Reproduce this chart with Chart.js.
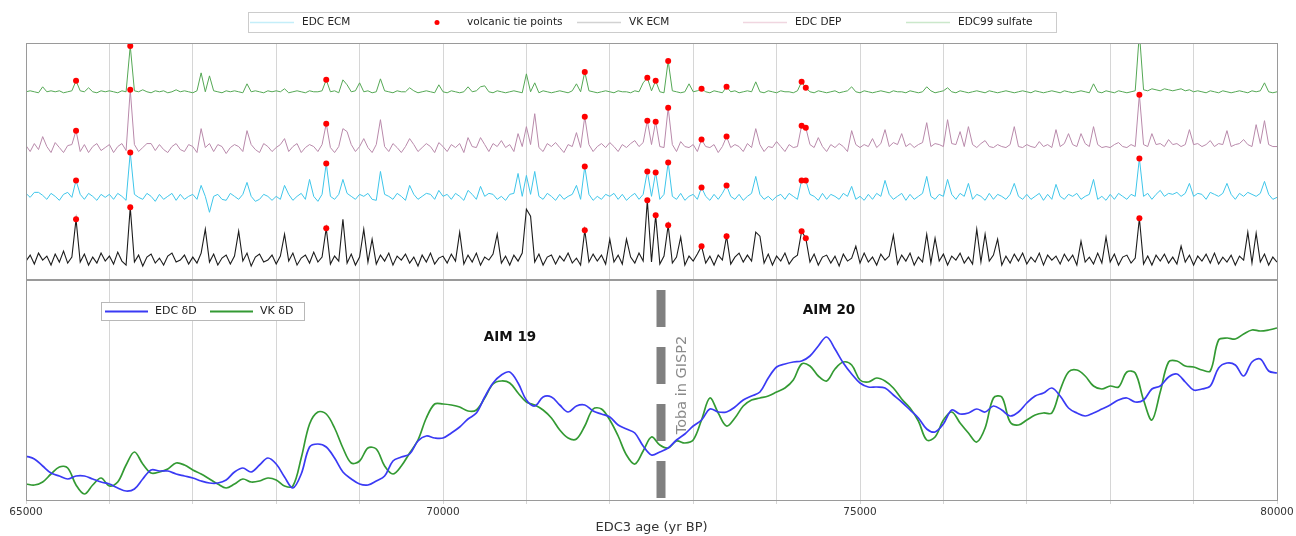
<!DOCTYPE html>
<html><head><meta charset="utf-8">
<script src="https://cdn.jsdelivr.net/npm/chart.js@4.4.1/dist/chart.umd.min.js"></script>
<style>
html,body{margin:0;padding:0;background:#fff;}
#wrap{position:relative;width:1296px;height:536px;overflow:hidden;}
canvas{position:absolute;left:0;}
#topChart{top:0;}
#botChart{top:280px;}
</style></head><body>
<div id="wrap">
<canvas id="topChart" width="1296" height="282"></canvas>
<canvas id="botChart" width="1296" height="256"></canvas>
</div>
<script>
// ---------- DATA ----------
const AGE_START = 65000;
const AGE_END = 80000;
const TRACE_STEP = 50;      // yr, volcanic traces
const ISO_STEP = 100;       // yr, isotope records
const majorTickAges = [65000, 70000, 75000, 80000];

// volcanic traces (amplitude above each trace's own baseline, arbitrary units)
const edc99Sulfate = [
 1,2,1,0,6,1,2,1,2,0,1,2,12,2,1,5,1,0,2,1,
 2,1,0,2,1,47,2,1,3,1,0,2,1,2,0,1,3,1,2,1,
 0,2,20,1,17,2,1,0,2,1,2,1,0,9,1,2,1,0,2,1,
 2,1,4,0,1,2,1,0,2,1,1,2,13,1,2,0,13,8,1,2,
 10,1,2,0,1,14,2,1,0,2,1,1,5,2,0,1,2,1,0,8,
 1,0,2,1,0,1,6,1,2,6,7,1,0,2,1,0,1,2,1,0,
 19,1,10,0,2,1,0,1,2,1,0,2,9,1,21,2,1,0,1,2,
 1,0,2,1,1,0,2,1,10,15,2,12,1,0,32,2,1,0,1,9,
 1,2,4,1,0,2,1,0,6,1,2,0,1,2,1,11,1,0,2,1,
 0,2,1,1,0,2,11,5,1,0,2,1,0,1,2,0,1,2,6,1,
 0,2,1,0,1,2,1,0,2,1,1,0,2,1,0,1,6,2,0,1,
 2,5,1,0,2,1,0,1,2,1,0,2,1,0,1,2,1,0,1,2,
 1,0,2,1,0,1,2,1,0,2,1,0,1,2,1,0,9,1,0,2,
 1,0,2,1,0,1,2,60,3,2,4,3,2,4,3,2,3,4,2,3,
 1,2,1,0,2,1,0,2,1,0,1,2,1,0,2,1,2,10,1,0,
 1];
const edcDep = [
 3,-3,5,-1,12,2,-4,6,1,-4,3,4,18,-3,4,-4,2,5,-2,1,
 4,-4,2,5,-2,59,4,-3,1,5,5,-2,4,-1,-4,2,5,-1,-3,4,
 2,-4,20,1,5,-3,4,2,-5,1,4,2,-3,18,4,-1,-4,5,2,-3,
 1,4,10,-3,2,5,-4,1,4,2,-3,4,25,1,-4,2,20,17,4,-3,
 2,10,1,-4,4,29,2,-3,5,1,-4,2,10,4,-3,1,5,2,-4,6,
 2,-3,4,1,5,-4,11,2,1,11,4,-3,5,2,8,1,4,-3,15,2,
 22,4,35,1,-3,5,2,6,1,-4,4,2,16,1,32,4,-3,2,5,1,
 6,2,-3,4,1,5,8,2,6,28,4,27,2,1,41,4,-3,7,2,1,
 4,-3,9,2,1,4,-4,2,12,1,4,2,-3,5,1,20,4,-3,2,1,
 7,2,-3,4,1,2,23,21,4,1,11,2,-3,4,1,5,2,-3,18,4,
 1,4,2,10,1,5,19,2,6,4,15,2,5,1,4,6,26,2,5,4,
 2,29,5,4,17,2,22,4,1,5,8,2,1,4,2,1,4,22,2,1,
 4,2,1,7,2,4,1,19,2,5,15,4,2,15,5,2,22,4,1,2,
 1,4,6,2,1,4,2,54,4,2,15,4,5,2,9,4,5,2,4,19,
 4,5,2,4,8,2,5,4,18,2,4,5,9,4,2,24,5,28,4,2,
 2];
const edcEcm = [
 5,1,6,6,3,-1,5,2,-2,4,6,1,18,4,-1,5,2,-2,4,1,
 4,-1,5,2,-2,46,4,1,-1,5,2,-3,4,-1,2,5,-2,4,-1,2,
 4,-1,13,2,-14,2,4,-1,-2,5,2,-1,4,16,2,-3,-1,4,2,-2,
 2,-1,13,4,-2,2,5,-1,19,2,-3,4,35,2,-1,4,19,5,2,-1,
 4,2,5,-1,-2,27,4,2,-1,5,2,-2,13,4,-1,2,5,4,-1,8,
 2,4,-1,5,2,-2,8,4,-1,12,2,5,4,-1,2,-2,4,5,25,2,
 23,4,27,2,-1,5,2,-2,4,-1,2,4,13,-1,32,4,-2,2,-1,4,
 2,5,-1,4,-2,2,5,-1,4,27,2,26,-1,4,36,2,-1,5,-2,2,
 4,-1,11,2,-2,4,-1,5,13,2,-1,4,-2,2,5,22,4,-1,2,-2,
 2,4,-1,5,2,-1,18,18,4,2,-2,5,-1,4,2,-1,5,2,12,-1,
 2,-2,4,-1,5,2,18,4,-1,2,5,-2,4,-1,2,5,22,2,-1,4,
 2,19,4,-1,5,2,15,-1,4,2,-2,5,-1,4,2,-1,4,15,2,-1,
 4,-1,2,5,-2,4,-1,14,2,-1,4,2,5,-1,2,4,19,-1,2,-2,
 4,-1,5,2,-1,4,2,40,2,5,-1,4,8,2,5,4,6,2,5,15,
 2,5,4,-1,6,4,2,5,15,4,-1,5,2,6,4,2,5,17,4,-1,
 1];
const vkEcm = [
 -2,4,-5,6,-1,3,-6,5,-3,8,-4,2,40,-3,5,-6,2,-4,6,-2,
 3,-5,7,-2,-6,52,-3,4,-7,2,5,-4,1,-6,3,6,-3,-1,4,-5,
 2,-4,6,30,-3,5,-6,1,4,-5,3,28,-2,6,-7,2,5,-3,-1,4,
 -5,3,25,-2,6,-6,1,4,-4,7,-3,2,31,-5,3,-2,40,-4,5,-6,
 2,30,-3,20,-5,4,-2,6,-6,3,-1,5,-4,2,-7,4,-3,6,-5,1,
 3,-4,5,-2,27,-5,4,-3,6,-6,2,-1,5,25,-4,3,-6,4,-2,6,
 50,43,-3,5,-6,2,4,-5,3,-2,6,-4,1,-6,29,-3,5,-2,4,-5,
 20,-3,4,-5,20,2,-4,6,-2,59,-3,44,-5,3,34,-4,2,22,-6,3,
 -2,5,13,-4,3,-6,4,-1,23,-5,2,6,-3,4,-2,27,23,-4,5,-6,
 3,-2,6,-5,1,4,28,21,-3,5,-6,2,4,-4,3,-7,5,-2,1,13,
 -4,6,-3,2,-6,5,-1,3,24,-5,4,-2,6,-6,2,-3,25,-4,21,-2,
 5,-6,3,-1,6,-4,2,-5,30,-3,25,-2,4,20,-6,3,-4,5,-2,6,
 -5,2,-3,6,-6,4,-1,3,-5,5,-2,4,-6,18,-3,2,-5,6,-4,22,
 -3,5,-6,2,4,-4,1,41,-5,3,-6,4,-2,5,-4,2,-5,13,-3,4,
 -6,3,-2,5,-4,6,-5,2,-3,4,-6,3,-1,27,-4,26,-3,5,-6,2,
 -3];
// vertical stacking of the traces in the upper panel
const traceOffsets = { sulfate: 187, dep: 131, edcEcm: 81, vkEcm: 20 };
const TOP_Y_MAX = 237;

const tiePointAges = [65600, 66250, 68600, 71700, 72450, 72550, 72700, 73100, 73400, 74300, 74350, 78350];

// isotope records (arbitrary units, one value per 100 yr)
const edcDeltaD = [
 44,41,34,27,24,21,24,24,21,18, 16,12,9,11,21,30,29,29,26,24,
 22,19,17,17,20,28,32,28,35,42, 36,23,12,26,53,56,53,42,28,21,
 16,15,19,24,39,43,46,59,64,62, 62,67,73,81,87,103,117,125,128,117,
 100,94,103,103,95,88,94,95,89,86, 83,75,71,67,54,45,48,52,60,66,
 74,80,91,88,88,93,100,104,108,122, 133,136,138,139,144,154,163,151,137,126,
 117,113,113,112,105,98,90,82,71,68, 76,90,86,87,91,88,94,90,84,88,
 97,104,107,112,104,92,87,84,87,91, 95,100,102,98,100,111,114,123,126,118,
 110,111,114,132,137,135,124,138,141,129, 127];
const vkDeltaD = [
 16,15,18,26,33,32,15,6,15,22, 14,18,35,48,36,27,28,31,37,35,
 30,26,21,16,12,16,21,18,19,22, 20,14,14,42,76,88,86,72,52,37,
 39,52,51,34,26,34,47,60,82,96, 96,95,93,89,90,102,116,119,117,107,
 98,95,90,82,70,62,61,74,91,91, 80,64,45,36,49,63,55,52,59,57,
 60,80,102,87,74,82,94,100,102,104, 108,112,120,136,134,124,119,131,138,135,
 120,118,122,119,112,101,92,79,60,63, 80,88,77,67,58,72,102,103,78,75,
 80,85,87,87,110,128,130,124,114,111, 114,113,128,127,100,80,108,138,139,134,
 133,130,129,160,162,161,166,170,169,170, 172];
const BOT_Y_MAX = 220;

const tobaAge = 72614;
const tobaSpan = [2, 210];

// ---------- BUILD ----------
Chart.defaults.font.family = "'DejaVu Sans', sans-serif";
Chart.defaults.animation = false;

function traceXY(values, offset, step) {
  return values.map((v, i) => ({ x: AGE_START + i * step, y: offset + v }));
}
const tracesForTies = [
  { vals: edc99Sulfate, off: traceOffsets.sulfate },
  { vals: edcDep, off: traceOffsets.dep },
  { vals: edcEcm, off: traceOffsets.edcEcm },
  { vals: vkEcm, off: traceOffsets.vkEcm }
];
const tieData = [];
tiePointAges.forEach(age => {
  const i = Math.round((age - AGE_START) / TRACE_STEP);
  tracesForTies.forEach(t => {
    const y = t.off + t.vals[i];
    if (y <= TOP_Y_MAX) tieData.push({ x: age, y });
  });
});

const framePlugin = {
  id: 'frame',
  afterDatasetsDraw(chart) {
    const { ctx, chartArea: a } = chart;
    ctx.save();
    ctx.strokeStyle = '#9a9a9a';
    ctx.lineWidth = 1;
    const l = Math.round(a.left) + 0.5, r = Math.round(a.right) + 0.5;
    const t = Math.round(a.top) + 0.5, b = Math.round(a.bottom) + 0.5;
    ctx.strokeRect(l, t, r - l, b - t);
    ctx.restore();
  }
};

const boxLegendPlugin = {
  id: 'boxLegend',
  afterDraw(chart, args, o) {
    if (!o || !o.items) return;
    const ctx = chart.ctx;
    ctx.save();
    ctx.fillStyle = '#ffffff';
    ctx.fillRect(o.x, o.y, o.w, o.h);
    ctx.strokeStyle = o.borderColor;
    ctx.lineWidth = 1;
    ctx.strokeRect(o.x + 0.5, o.y + 0.5, o.w, o.h);
    const cy = o.y + o.h / 2 + 0.5;
    ctx.font = o.font;
    ctx.textBaseline = 'middle';
    o.items.forEach(it => {
      const ds = chart.data.datasets[it.ds];
      if (it.marker) {
        ctx.fillStyle = ds.pointBackgroundColor;
        ctx.beginPath();
        ctx.arc(it.x + o.handle / 2, cy, o.markerRadius, 0, Math.PI * 2);
        ctx.fill();
      } else {
        ctx.strokeStyle = it.color || ds.borderColor;
        ctx.lineWidth = o.lineWidth;
        ctx.beginPath();
        ctx.moveTo(it.x, cy);
        ctx.lineTo(it.x + o.handle, cy);
        ctx.stroke();
      }
      ctx.fillStyle = o.textColor;
      ctx.fillText(ds.label, it.x + o.textGap, cy);
    });
    ctx.restore();
  }
};

const notesPlugin = {
  id: 'notes',
  afterDatasetsDraw(chart, args, o) {
    if (!o || !o.items) return;
    const ctx = chart.ctx;
    const xs = chart.scales.x, ys = chart.scales.y;
    o.items.forEach(n => {
      const px = xs.getPixelForValue(n.age), py = ys.getPixelForValue(n.value);
      ctx.save();
      ctx.translate(px, py);
      if (n.rotate) ctx.rotate(n.rotate * Math.PI / 180);
      ctx.font = n.font;
      ctx.fillStyle = n.color;
      ctx.textAlign = 'center';
      ctx.textBaseline = 'middle';
      ctx.fillText(n.text, 0, 0);
      ctx.restore();
    });
  }
};

const gridColor = '#d6d6d6';

// ---------- TOP PANEL ----------
new Chart(document.getElementById('topChart'), {
  type: 'line',
  data: {
    datasets: [
      { label: 'volcanic tie points', data: tieData, showLine: false,
        pointRadius: 3, pointHoverRadius: 3, pointStyle: 'circle',
        pointBackgroundColor: '#ff0000', pointBorderColor: '#ff0000', borderColor: '#ff0000', borderWidth: 0 },
      { label: 'EDC99 sulfate', data: traceXY(edc99Sulfate, traceOffsets.sulfate, TRACE_STEP),
        borderColor: '#55a855', borderWidth: 1, pointRadius: 0, tension: 0 },
      { label: 'EDC DEP', data: traceXY(edcDep, traceOffsets.dep, TRACE_STEP),
        borderColor: '#b98aab', borderWidth: 1, pointRadius: 0, tension: 0 },
      { label: 'EDC ECM', data: traceXY(edcEcm, traceOffsets.edcEcm, TRACE_STEP),
        borderColor: '#3fc6ea', borderWidth: 1, pointRadius: 0, tension: 0 },
      { label: 'VK ECM', data: traceXY(vkEcm, traceOffsets.vkEcm, TRACE_STEP),
        borderColor: '#1c1c1c', borderWidth: 1.1, pointRadius: 0, tension: 0 }
    ]
  },
  options: {
    responsive: false, events: [],
    layout: { padding: { left: 26, right: 19, top: 43, bottom: 2 } },
    scales: {
      x: { type: 'linear', min: AGE_START, max: AGE_END,
        ticks: { display: false, stepSize: 1000 },
        grid: { color: gridColor, drawTicks: false },
        border: { display: false },
        afterFit: s => { s.height = 0; } },
      y: { display: false, min: 0, max: TOP_Y_MAX }
    },
    plugins: {
      legend: { display: false }, tooltip: { enabled: false },
      boxLegend: {
        x: 248, y: 12, w: 808, h: 20, borderColor: '#cccccc',
        font: "10.5px 'DejaVu Sans'", textColor: '#222',
        handle: 44, textGap: 52, lineWidth: 1.5, markerRadius: 2.5,
        items: [
          { ds: 3, x: 250, color: '#c4eef9' },
          { ds: 0, x: 415, marker: true },
          { ds: 4, x: 577, color: '#d2d2d2' },
          { ds: 2, x: 743, color: '#f0d6e0' },
          { ds: 1, x: 906, color: '#cbe8cb' }
        ]
      }
    }
  },
  plugins: [framePlugin, boxLegendPlugin]
});

// ---------- BOTTOM PANEL ----------
new Chart(document.getElementById('botChart'), {
  type: 'line',
  data: {
    datasets: [
      { label: 'EDC δD', data: traceXY(edcDeltaD, 0, ISO_STEP),
        borderColor: '#3a3af4', borderWidth: 1.7, pointRadius: 0, tension: 0.35 },
      { label: 'VK δD', data: traceXY(vkDeltaD, 0, ISO_STEP),
        borderColor: '#339a33', borderWidth: 1.7, pointRadius: 0, tension: 0.35 },
      { label: 'Toba in GISP2', data: [{ x: tobaAge, y: tobaSpan[0] }, { x: tobaAge, y: tobaSpan[1] }],
        borderColor: '#808080', borderWidth: 9, borderDash: [37, 20], pointRadius: 0 }
    ]
  },
  options: {
    responsive: false, events: [],
    layout: { padding: { left: 26, right: 19, top: 0, bottom: 0 } },
    scales: {
      x: { type: 'linear', min: AGE_START, max: AGE_END,
        ticks: { stepSize: 1000, autoSkip: false, maxRotation: 0, color: '#333',
          font: { size: 10.5 }, padding: 2,
          callback: v => majorTickAges.includes(v) ? String(v) : '' },
        grid: { color: gridColor, drawTicks: true, tickLength: 4 },
        border: { display: false },
        title: { display: true, text: 'EDC3 age (yr BP)', color: '#333',
          font: { size: 13 }, padding: { top: 0, bottom: 1 } },
        afterFit: s => { s.height = 36; } },
      y: { display: false, min: 0, max: BOT_Y_MAX }
    },
    plugins: {
      legend: { display: false }, tooltip: { enabled: false },
      boxLegend: {
        x: 101, y: 22, w: 203, h: 18, borderColor: '#b8b8b8',
        font: "11px 'DejaVu Sans'", textColor: '#222',
        handle: 43, textGap: 50, lineWidth: 2, markerRadius: 0,
        items: [ { ds: 0, x: 105 }, { ds: 1, x: 210 } ]
      },
      notes: {
        items: [
          { text: 'AIM 19', age: 70803, value: 163, font: "bold 13.5px 'DejaVu Sans'", color: '#111' },
          { text: 'AIM 20', age: 74628, value: 190, font: "bold 13.5px 'DejaVu Sans'", color: '#111' },
          { text: 'Toba in GISP2', age: 72866, value: 115, rotate: -90, font: "14.5px 'DejaVu Sans'", color: '#8a8a8a' }
        ]
      }
    }
  },
  plugins: [framePlugin, notesPlugin, boxLegendPlugin]
});
</script>
</body></html>
